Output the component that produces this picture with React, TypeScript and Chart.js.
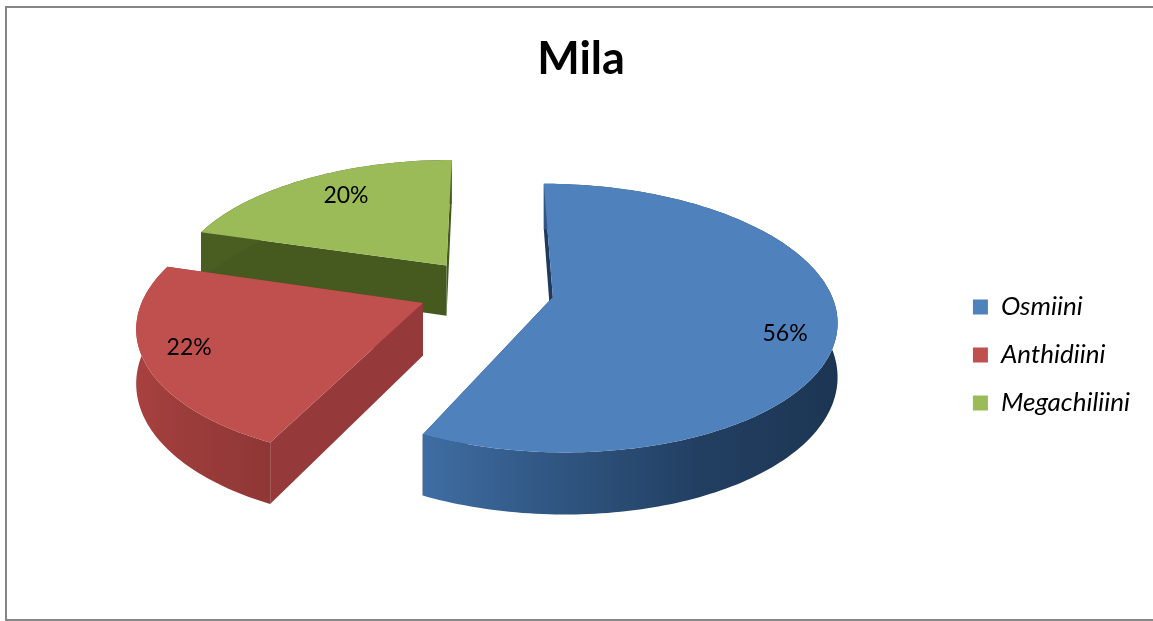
import React, { useEffect, useRef } from "react";
import { Chart, registerables } from "chart.js";

Chart.register(...registerables);

const title = "Mila";
const categories = ["Osmiini", "Anthidiini", "Megachiliini"];
const values = [56, 22, 20];
const valueLabels = ["56%", "22%", "20%"];
const colors = ["#4f81bd", "#c0504d", "#9bbb59"];
const cutWallColors = ["#1f3a5c", "#96393a", "#465a20"];
const outerWallStops = [
  ["#3f6da3", "#2f5580", "#223f62", "#1c3553"],
  ["#a8413f", "#9c3d3b", "#953a38", "#8f3735"],
  ["#4a5e22", "#4a5e22", "#4a5e22", "#4a5e22"],
];
const explode = 68;
const labelReach = [0.83, 0.84, 0.76];
const labelTurn = [0.1, 0.03, 0.05];

const FONT = "Lato, 'Open Sans', sans-serif";
const CX = 479;
const CY = 282;
const R = 277;
const TILT = 0.465;
const PERSPECTIVE = 0.155;
const THICKNESS = 52;

function project(X: number, Y: number, z: number) {
  const f = 1 / (1 - (PERSPECTIVE * Y) / R);
  return { x: CX + X * f, y: CY + (TILT * Y + z) * f };
}

const pie3d = {
  id: "pie3d",
  beforeDatasetDraw() {
    return false;
  },
  afterDatasetsDraw(chart: any) {
    const { ctx } = chart;
    const arcs = chart.getDatasetMeta(0).data;
    ctx.save();
    const order = [2, 1, 0];
    for (const i of order) {
      const arc = arcs[i];
      const a0 = arc.startAngle;
      const a1 = arc.endAngle;
      const mid = (a0 + a1) / 2;
      const off = arc.options.offset;
      const ax = Math.cos(mid) * off;
      const ay = Math.sin(mid) * off;
      const rim: [number, number][] = [];
      const n = Math.ceil((a1 - a0) / 0.02);
      for (let k = 0; k <= n; k++) {
        const a = a0 + ((a1 - a0) * k) / n;
        rim.push([ax + Math.cos(a) * R, ay + Math.sin(a) * R]);
      }
      // cut walls
      ctx.fillStyle = cutWallColors[i];
      for (const end of [rim[0], rim[rim.length - 1]]) {
        const p = [project(ax, ay, 0), project(end[0], end[1], 0), project(end[0], end[1], THICKNESS), project(ax, ay, THICKNESS)];
        ctx.beginPath();
        p.forEach((q, j) => (j ? ctx.lineTo(q.x, q.y) : ctx.moveTo(q.x, q.y)));
        ctx.closePath();
        ctx.fill();
      }
      // outer wall
      const xs = rim.map((q) => project(q[0], q[1], 0).x);
      const g = ctx.createLinearGradient(Math.min(...xs), 0, Math.max(...xs), 0);
      outerWallStops[i].forEach((c, j) => g.addColorStop(j / 3, c));
      ctx.fillStyle = g;
      ctx.beginPath();
      rim.forEach((q, j) => {
        const p = project(q[0], q[1], 0);
        j ? ctx.lineTo(p.x, p.y) : ctx.moveTo(p.x, p.y);
      });
      for (let j = rim.length - 1; j >= 0; j--) {
        const p = project(rim[j][0], rim[j][1], THICKNESS);
        ctx.lineTo(p.x, p.y);
      }
      ctx.closePath();
      ctx.fill();
      // top face
      ctx.fillStyle = arc.options.backgroundColor;
      ctx.beginPath();
      const apex = project(ax, ay, 0);
      ctx.moveTo(apex.x, apex.y);
      rim.forEach((q) => {
        const p = project(q[0], q[1], 0);
        ctx.lineTo(p.x, p.y);
      });
      ctx.closePath();
      ctx.fill();
    }
    // value labels
    ctx.fillStyle = "#000";
    ctx.font = `23px ${FONT}`;
    ctx.textAlign = "center";
    ctx.textBaseline = "middle";
    arcs.forEach((arc: any, i: number) => {
      const mid = (arc.startAngle + arc.endAngle) / 2;
      const off = arc.options.offset;
      const t = mid + labelTurn[i];
      const r = R * labelReach[i];
      const p = project(Math.cos(mid) * off + Math.cos(t) * r, Math.sin(mid) * off + Math.sin(t) * r, 0);
      ctx.fillText(valueLabels[i], p.x, p.y);
    });
    ctx.restore();
  },
};

export default function App() {
  const ref = useRef<HTMLCanvasElement>(null);
  useEffect(() => {
    const chart = new Chart(ref.current!, {
      type: "pie",
      data: {
        labels: categories,
        datasets: [{ data: values, backgroundColor: colors, borderWidth: 0, offset: explode }],
      },
      options: {
        animation: false,
        responsive: false,
        layout: { padding: { left: 15, right: 15, top: 0, bottom: 181 } },
        plugins: {
          title: {
            display: true,
            text: title,
            color: "#000",
            font: { family: FONT, size: 45, weight: "bold" },
            padding: { top: 24, bottom: 20 },
          },
          legend: {
            position: "right",
            align: "end",
            labels: {
              boxWidth: 15,
              boxHeight: 15,
              padding: 22,
              color: "#000",
              font: { family: FONT, size: 26, style: "italic" },
            },
          },
          tooltip: { enabled: false },
        },
      },
      plugins: [pie3d],
    } as any);
    return () => chart.destroy();
  }, []);
  return (
    <div style={{ position: "fixed", left: 0, top: 0, width: 1153, height: 621, overflow: "hidden", background: "#fff" }}>
      <div style={{ position: "absolute", left: 5, top: 6, width: 1148, height: 611, borderLeft: "2px solid #868686", borderTop: "2px solid #868686", borderBottom: "2px solid #868686" }}>
        <canvas ref={ref} width={1148} height={611} style={{ display: "block" }} />
      </div>
    </div>
  );
}
